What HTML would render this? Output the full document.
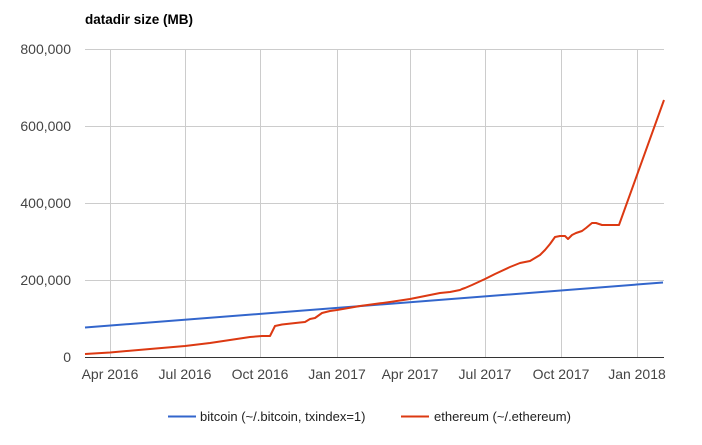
<!DOCTYPE html>
<html><head><meta charset="utf-8"><style>
body{margin:0;background:#fff;}
svg{display:block;font-family:"Liberation Sans",Arial,sans-serif;}
</style></head><body>
<svg width="702" height="445" xmlns="http://www.w3.org/2000/svg">
<rect width="702" height="445" fill="#fff"/>
<text x="85" y="24" font-size="13.5" font-weight="bold" fill="#000">datadir size (MB)</text>
<g stroke="#ccc" stroke-width="1">
<line x1="85" y1="49.5" x2="664" y2="49.5"/>
<line x1="85" y1="126.5" x2="664" y2="126.5"/>
<line x1="85" y1="203.5" x2="664" y2="203.5"/>
<line x1="85" y1="280.5" x2="664" y2="280.5"/>
<line x1="110.5" y1="49" x2="110.5" y2="357"/>
<line x1="185.5" y1="49" x2="185.5" y2="357"/>
<line x1="260.5" y1="49" x2="260.5" y2="357"/>
<line x1="337.5" y1="49" x2="337.5" y2="357"/>
<line x1="410.5" y1="49" x2="410.5" y2="357"/>
<line x1="485.5" y1="49" x2="485.5" y2="357"/>
<line x1="561.5" y1="49" x2="561.5" y2="357"/>
<line x1="637.5" y1="49" x2="637.5" y2="357"/>
</g>
<line x1="85" y1="357.5" x2="664" y2="357.5" stroke="#333" stroke-width="1"/>
<g font-size="14" fill="#444" text-anchor="end">
<text x="71" y="54">800,000</text>
<text x="71" y="131">600,000</text>
<text x="71" y="208">400,000</text>
<text x="71" y="285">200,000</text>
<text x="71" y="362">0</text>
</g>
<g font-size="14" fill="#444" text-anchor="middle">
<text x="110" y="379">Apr 2016</text>
<text x="185" y="379">Jul 2016</text>
<text x="260" y="379">Oct 2016</text>
<text x="337" y="379">Jan 2017</text>
<text x="410" y="379">Apr 2017</text>
<text x="485" y="379">Jul 2017</text>
<text x="561" y="379">Oct 2017</text>
<text x="637" y="379">Jan 2018</text>
</g>
<polyline fill="none" stroke="#3366cc" stroke-width="2" points="85,327.5 663,282.5"/>
<polyline fill="none" stroke="#dc3912" stroke-width="2" stroke-linejoin="round" points="85,354 110,352.5 150,349 185,346 210,343 250,337 262,336 270,336 275,326 282,324.5 300,322.5 305,322 310,319 315,318 322,313 330,311 337,310 360,306 390,302 410,299 420,297 440,293 450,292 460,290 462,289 465,288 472,285 485,279 495,274 510,267 520,263 530,261 540,255 545,250 550,244 555,237 560,236 565,236 568,239 572,235 576,233 582,231 586,228 592,223 596,223 602,225 612,225 619,225 664,100"/>
<line x1="168" y1="416.5" x2="196" y2="416.5" stroke="#3366cc" stroke-width="2"/>
<text x="200" y="421" font-size="13" fill="#222">bitcoin (~/.bitcoin, txindex=1)</text>
<line x1="401" y1="416.5" x2="429" y2="416.5" stroke="#dc3912" stroke-width="2"/>
<text x="434" y="421" font-size="13" fill="#222">ethereum (~/.ethereum)</text>
</svg>
</body></html>
